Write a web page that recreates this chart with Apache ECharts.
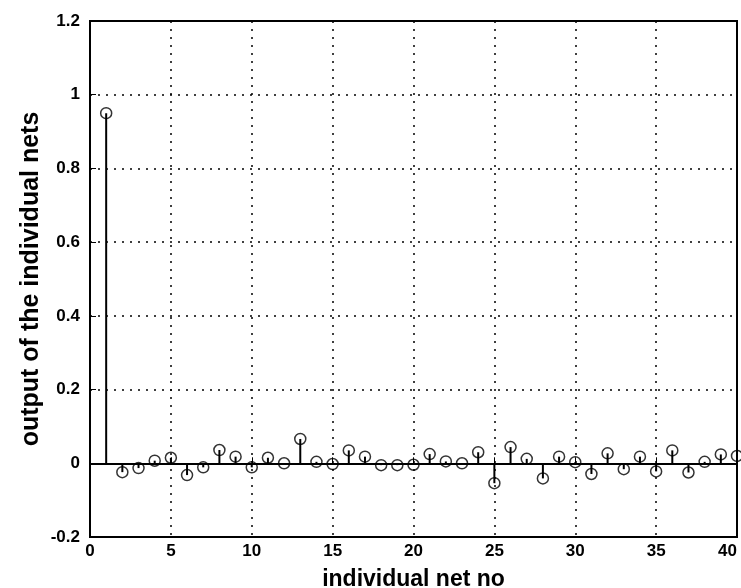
<!DOCTYPE html>
<html>
    <head>
        <title>output of the individual nets</title>
        <meta charset="UTF-8">
        <script src="https://cdn.jsdelivr.net/npm/echarts@6/dist/echarts.min.js"></script>
        <style>
            body { margin: 0; background: #fff; }
            #main { width: 741px; height: 588px; }
        </style>
    </head>
    <body>
        <div id="main"></div>
        <script>
            // net numbers and their outputs
            var netNo = [1, 2, 3, 4, 5, 6, 7, 8, 9, 10,
                11, 12, 13, 14, 15, 16, 17, 18, 19, 20,
                21, 22, 23, 24, 25, 26, 27, 28, 29, 30,
                31, 32, 33, 34, 35, 36, 37, 38, 39, 40];
            var outputs = [0.95, -0.024, -0.013, 0.007, 0.015, -0.032, -0.011, 0.036, 0.018, -0.011,
                0.015, 0.0, 0.066, 0.004, -0.002, 0.035, 0.018, -0.005, -0.005, -0.004,
                0.025, 0.005, 0.0, 0.03, -0.054, 0.044, 0.012, -0.041, 0.018, 0.003,
                -0.029, 0.027, -0.016, 0.018, -0.022, 0.035, -0.025, 0.004, 0.024, 0.02];
            var xTicks = [0, 5, 10, 15, 20, 25, 30, 35, 40];
            var yTicks = [-0.2, 0, 0.2, 0.4, 0.6, 0.8, 1, 1.2];

            var pts = [];
            for (var i = 0; i < netNo.length; i++) {
                pts.push([netNo[i], outputs[i]]);
            }

            var chart = echarts.init(document.getElementById('main'));
            var font = 'Liberation Sans, Arial, sans-serif';
            option = {
                animation: false,
                grid: {
                    left: 90, right: 4, top: 21, bottom: 51,
                    outerBoundsMode: 'none',
                    show: true, borderColor: '#000', borderWidth: 2
                },
                xAxis: {
                    type: 'value',
                    min: xTicks[0], max: xTicks[xTicks.length - 1], interval: 5,
                    name: 'individual net no',
                    nameLocation: 'middle', nameGap: 31, nameMoveOverlap: false,
                    nameTextStyle: { fontFamily: font, fontSize: 23, fontWeight: 'bold', color: '#000' },
                    axisLine: { show: false },
                    axisTick: { inside: true, length: 6, lineStyle: { color: '#000' } },
                    axisLabel: { fontFamily: font, fontSize: 17, fontWeight: 'bold', color: '#000', margin: 6,
                        alignMaxLabel: 'right' },
                    splitLine: { show: true, lineStyle: { type: [2, 6], color: '#000', width: 1.5 } }
                },
                yAxis: {
                    type: 'value',
                    min: yTicks[0], max: yTicks[yTicks.length - 1], interval: 0.2,
                    name: 'output of the individual nets',
                    nameLocation: 'middle', nameGap: 46, nameMoveOverlap: false,
                    nameTextStyle: { fontFamily: font, fontSize: 25, fontWeight: 'bold', color: '#000' },
                    axisLine: { show: false },
                    axisTick: { inside: true, length: 6, lineStyle: { color: '#000' } },
                    axisLabel: {
                        fontFamily: font, fontSize: 17, fontWeight: 'bold', color: '#000', margin: 10,
                        formatter: function (v) { return String(Math.round(v * 10) / 10); }
                    },
                    splitLine: { show: true, lineStyle: { type: [2, 6], color: '#000', width: 1.5 } }
                },
                series: [{
                        name: 'stem',
                        type: 'bar',
                        barWidth: 2,
                        itemStyle: { color: '#000' },
                        data: pts,
                        markLine: {
                            silent: true,
                            symbol: 'none',
                            label: { show: false },
                            lineStyle: { color: '#000', width: 2, type: 'solid' },
                            data: [{ yAxis: 0 }]
                        }
                    }, {
                        name: 'output',
                        type: 'scatter',
                        symbol: 'circle',
                        symbolSize: 11,
                        itemStyle: { color: 'rgba(0,0,0,0)', borderColor: '#000', borderWidth: 1.5 },
                        data: pts
                    }]
            };
            chart.setOption(option);
        </script>
    </body>
</html>
